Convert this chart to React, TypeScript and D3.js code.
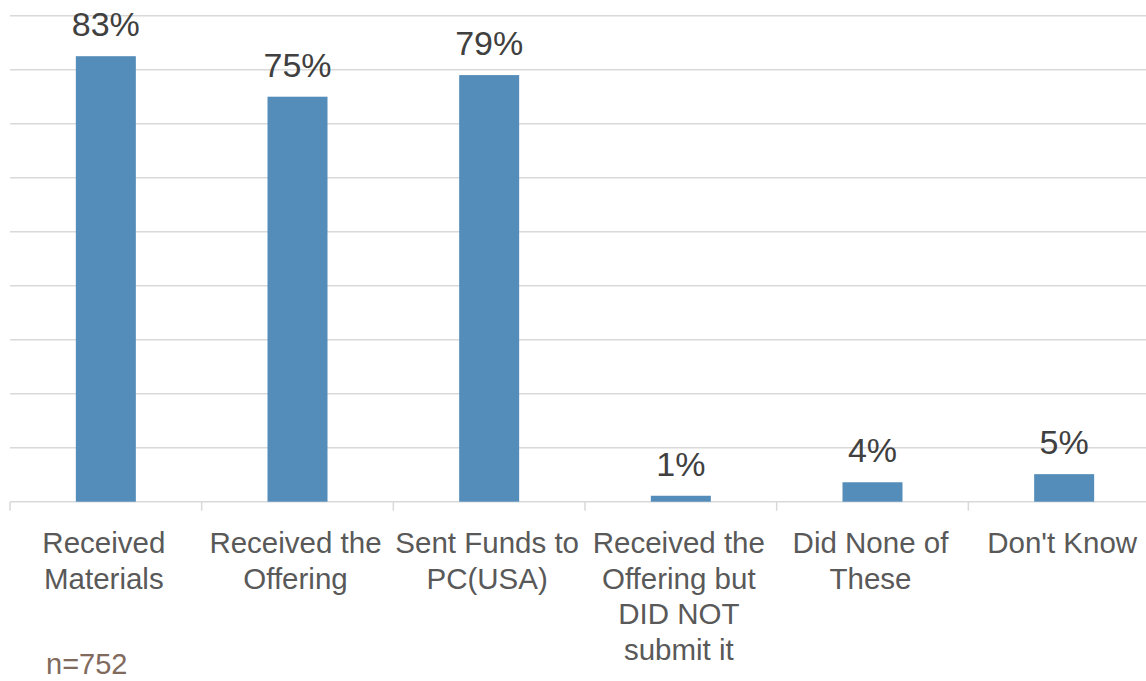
import React from "react";
import * as d3 from "d3";

const categories: string[][] = [
  ["Received", "Materials"],
  ["Received the", "Offering"],
  ["Sent Funds to", "PC(USA)"],
  ["Received the", "Offering but", "DID NOT", "submit it"],
  ["Did None of", "These"],
  ["Don't Know"],
];
const values: number[] = [82.5, 75, 79, 1.1, 3.6, 5.1];
const valueLabels: string[] = ["83%", "75%", "79%", "1%", "4%", "5%"];
const gridTicks: number[] = [0, 10, 20, 30, 40, 50, 60, 70, 80, 90];
const noteText = "n=752";

const W = 1146;
const H = 681;
const FONT = "'Liberation Sans', Arial, sans-serif";

export default function App() {
  const ids = categories.map((_, i) => String(i));
  const x = d3.scaleBand<string>().domain(ids).range([10, 1160]).paddingInner(0.687).paddingOuter(0.3435);
  const xOuter = d3.scaleBand<string>().domain(ids).range([10, 1160]);
  const y = d3.scaleLinear().domain([0, 90]).range([501.7, 15.7]);

  return (
    <svg
      width={W}
      height={H}
      style={{ position: "absolute", left: 0, top: 0, background: "#fff" }}
      fontFamily={FONT}
    >
      {gridTicks.map((t) => (
        <line key={t} x1={10} x2={W} y1={y(t)} y2={y(t)} stroke="#D9D9D9" strokeWidth={1.5} />
      ))}
      {ids.map((id) => (
        <line
          key={"tk" + id}
          x1={xOuter(id)!}
          x2={xOuter(id)!}
          y1={y(0)}
          y2={y(0) + 9}
          stroke="#D9D9D9"
          strokeWidth={1.5}
        />
      ))}
      {values.map((v, i) => (
        <rect
          key={"b" + i}
          x={x(ids[i])!}
          y={y(v)}
          width={x.bandwidth()}
          height={y(0) - y(v)}
          fill="#548CBA"
        />
      ))}
      {values.map((v, i) => (
        <text
          key={"v" + i}
          x={x(ids[i])! + x.bandwidth() / 2}
          y={y(v) - 20}
          textAnchor="middle"
          fontSize={34}
          fill="#404040"
        >
          {valueLabels[i]}
        </text>
      ))}
      {categories.map((lines, i) => (
        <text
          key={"c" + i}
          x={xOuter(ids[i])! + xOuter.bandwidth() / 2 - 2}
          y={553}
          textAnchor="middle"
          fontSize={29.5}
          fill="#595959"
        >
          {lines.map((l, j) => (
            <tspan key={j} x={xOuter(ids[i])! + xOuter.bandwidth() / 2 - 2} dy={j === 0 ? 0 : 35.5}>
              {l}
            </tspan>
          ))}
        </text>
      ))}
      <text x={46} y={674} fontSize={29} fill="#7F6A5D">
        {noteText}
      </text>
    </svg>
  );
}
